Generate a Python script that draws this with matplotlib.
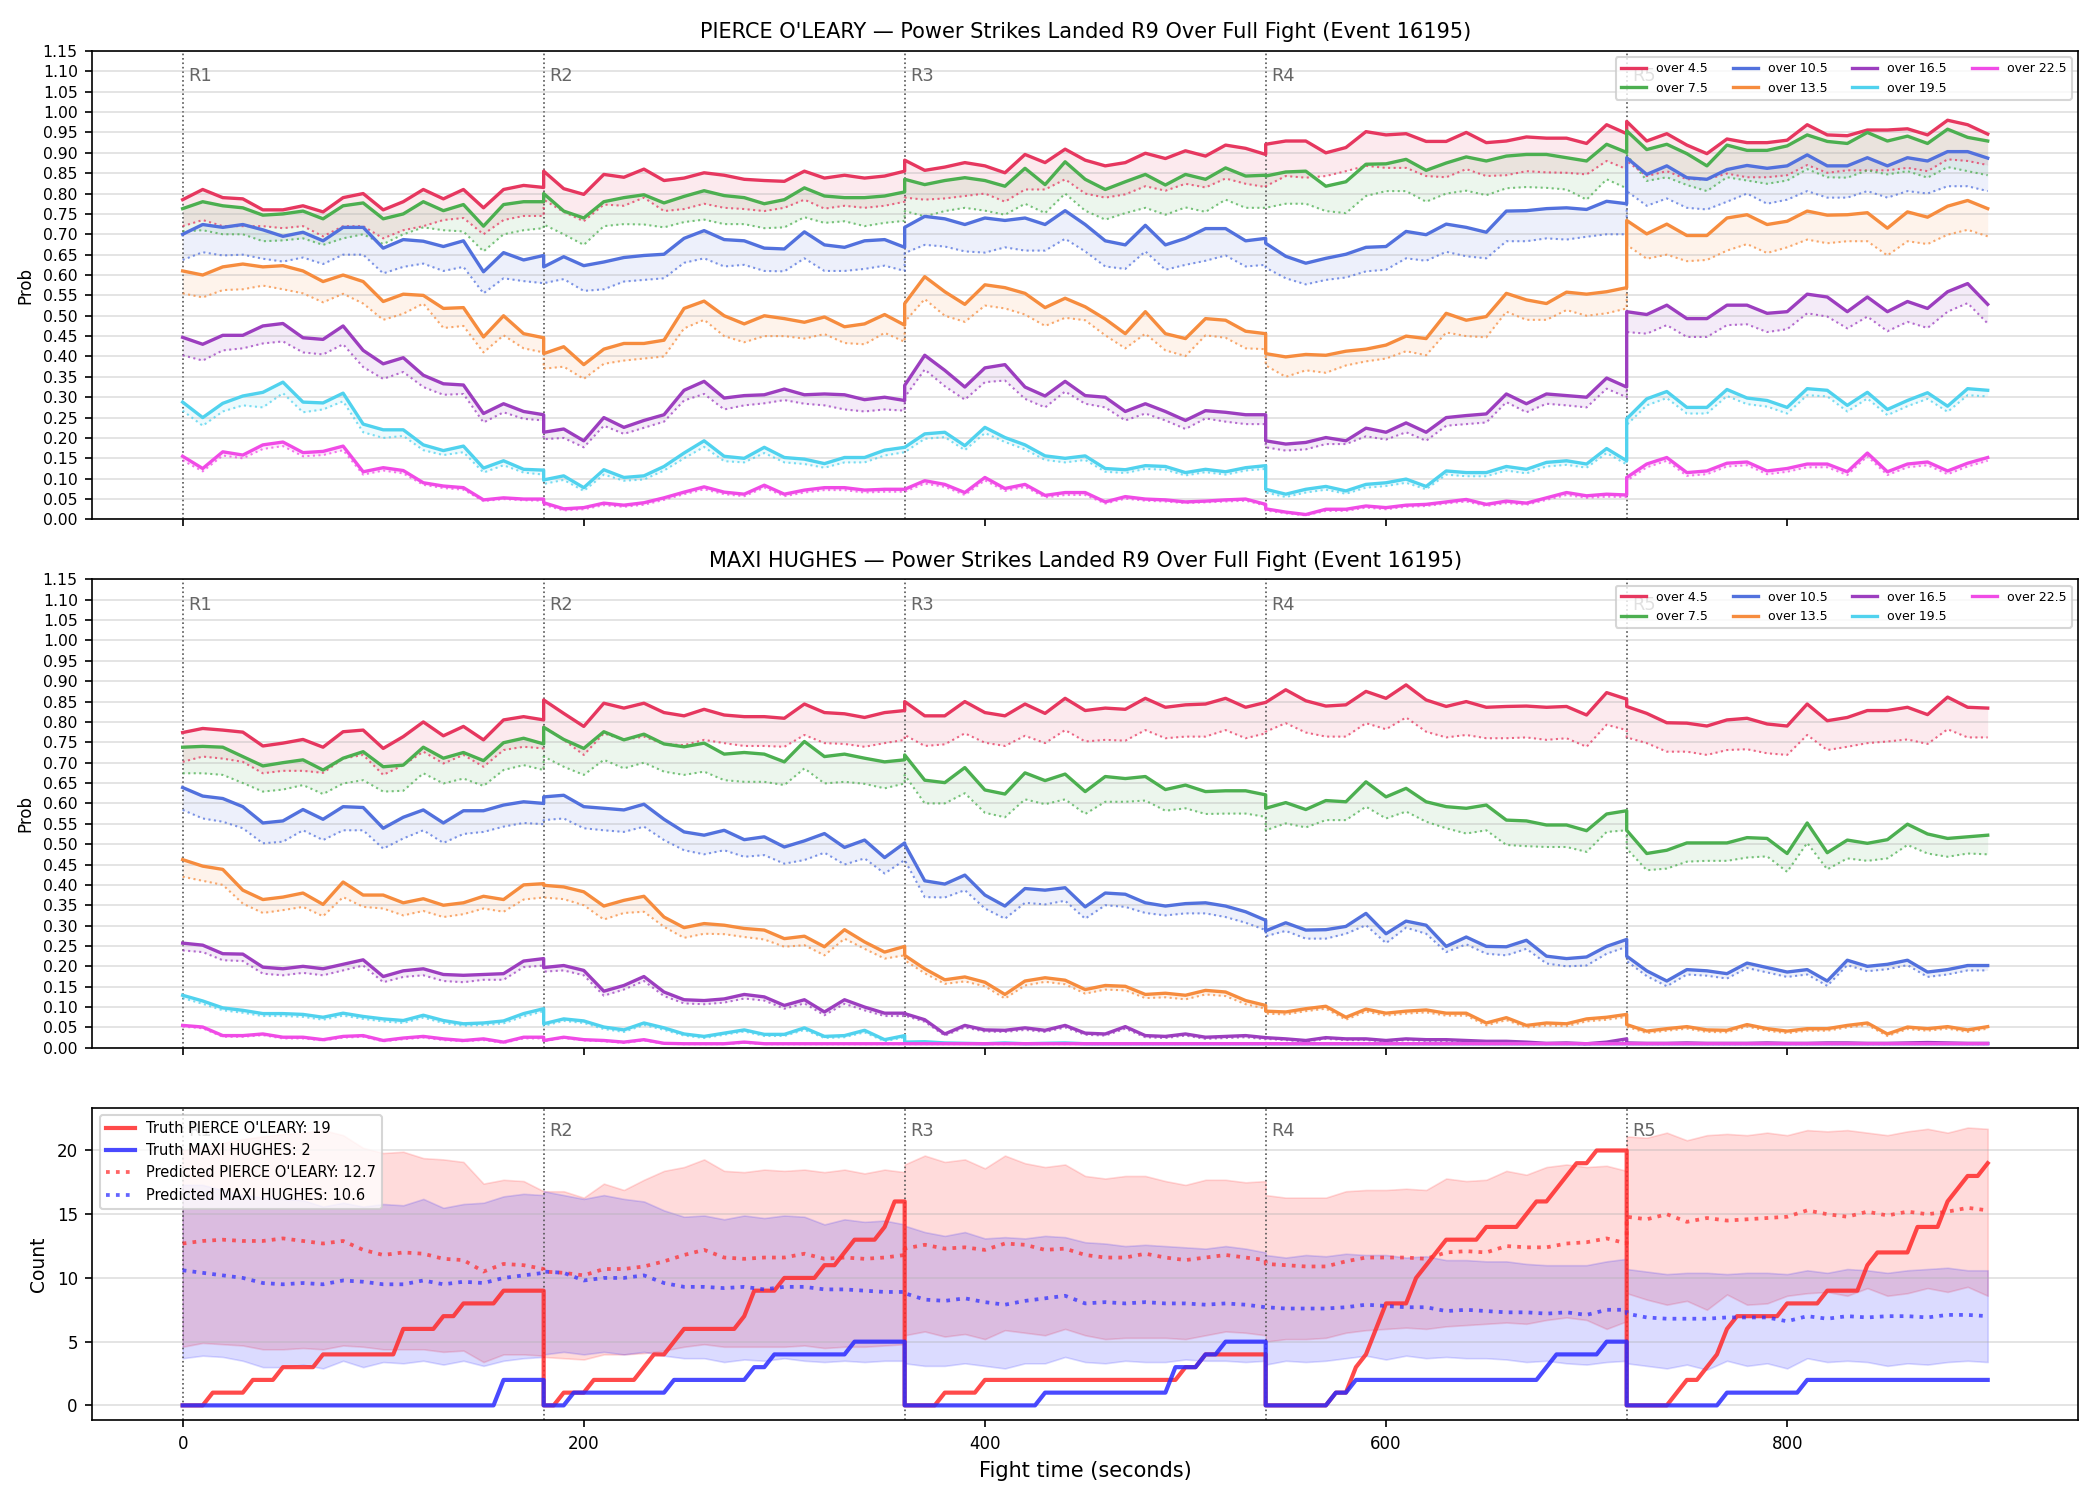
import numpy as np
import matplotlib
matplotlib.use("Agg")
import matplotlib.pyplot as plt

# ---------------------------------------------------------------- settings
ROUND_LEN = 180
N_ROUNDS = 5
LINES = ["over 4.5", "over 7.5", "over 10.5", "over 13.5", "over 16.5", "over 19.5", "over 22.5"]
COLORS = ["#e6375f", "#4caf50", "#5271dd", "#f68c3e", "#9c3ebf", "#50d2ee", "#f04be6"]
FIGHTER_A = "PIERCE O'LEARY"
FIGHTER_B = "MAXI HUGHES"
EVENT = 16195

# ------------------------------------------------ PIERCE O'LEARY probabilities
# 19 samples per round (every 10 s, 0..180 s), rounds 1-5 concatenated
po_live_45 = [.785, .81, .79, .787, .76, .76, .77, .755, .79, .80, .76, .78, .81, .787, .81, .765, .81, .82, .815,
              .855, .812, .798, .847, .84, .86, .832, .838, .851, .845, .835, .832, .83, .855, .838, .845, .838, .843, .855,
              .882, .857, .865, .876, .868, .851, .896, .876, .909, .882, .868, .876, .899, .886, .905, .892, .919, .911, .896,
              .921, .929, .929, .90, .913, .952, .944, .947, .928, .928, .95, .925, .929, .939, .936, .936, .923, .969, .947,
              .977, .929, .947, .919, .898, .934, .925, .925, .931, .969, .944, .942, .956, .956, .959, .944, .98, .969, .946]
po_base_45 = [.72, .735, .72, .72, .72, .715, .72, .695, .72, .72, .69, .71, .72, .735, .74, .70, .735, .745, .745,
              .785, .755, .732, .773, .77, .79, .757, .762, .775, .765, .762, .757, .765, .785, .763, .77, .765, .77, .78,
              .79, .785, .788, .794, .80, .78, .81, .81, .835, .80, .79, .798, .818, .807, .824, .815, .837, .824, .816,
              .818, .843, .839, .843, .855, .868, .863, .863, .843, .84, .86, .843, .845, .855, .852, .851, .847, .88, .86,
              .88, .843, .855, .835, .835, .849, .84, .84, .845, .87, .851, .857, .857, .857, .863, .855, .884, .88, .87]
po_live_75 = [.763, .78, .77, .765, .747, .75, .757, .738, .77, .777, .738, .75, .78, .758, .773, .72, .773, .78, .78,
              .80, .757, .74, .78, .79, .797, .777, .793, .807, .795, .79, .775, .785, .814, .794, .79, .79, .794, .804,
              .835, .822, .832, .839, .832, .818, .862, .822, .878, .835, .81, .829, .847, .821, .847, .835, .863, .843, .845,
              .843, .853, .855, .818, .829, .872, .873, .884, .857, .875, .89, .88, .892, .896, .896, .888, .88, .921, .901,
              .954, .908, .921, .898, .868, .919, .906, .906, .917, .944, .928, .923, .95, .929, .941, .923, .958, .938, .929]
po_base_75 = [.707, .71, .70, .70, .683, .685, .69, .674, .69, .70, .676, .70, .717, .71, .707, .658, .70, .71, .715,
              .724, .70, .674, .72, .725, .724, .717, .73, .736, .725, .725, .715, .717, .742, .728, .732, .72, .728, .733,
              .757, .744, .757, .765, .758, .748, .775, .752, .80, .758, .736, .752, .765, .748, .766, .755, .785, .765, .765,
              .765, .775, .775, .757, .752, .794, .806, .806, .78, .80, .807, .796, .813, .816, .814, .81, .785, .835, .813,
              .896, .831, .84, .821, .806, .84, .832, .824, .832, .86, .84, .839, .857, .847, .855, .839, .865, .855, .845]
po_live_105 = [.70, .724, .717, .724, .711, .695, .705, .684, .717, .717, .666, .687, .683, .67, .684, .608, .655, .637, .648,
               .62, .645, .623, .632, .643, .648, .651, .69, .709, .687, .684, .666, .664, .706, .674, .668, .684, .687, .668,
               .717, .744, .738, .724, .74, .734, .74, .724, .758, .724, .684, .674, .722, .674, .69, .714, .714, .684, .69,
               .678, .646, .629, .641, .651, .668, .67, .707, .699, .725, .717, .705, .757, .758, .763, .765, .761, .781, .775,
               .888, .847, .868, .839, .835, .859, .869, .862, .868, .895, .868, .868, .888, .868, .888, .88, .903, .903, .887]
po_base_105 = [.637, .656, .648, .65, .64, .633, .643, .627, .65, .65, .604, .62, .628, .61, .62, .555, .592, .585, .58,
               .58, .59, .561, .565, .584, .588, .592, .63, .641, .621, .625, .61, .609, .641, .61, .61, .615, .623, .61,
               .654, .674, .67, .658, .655, .668, .66, .66, .689, .658, .621, .615, .658, .613, .625, .635, .648, .621, .625,
               .618, .592, .577, .588, .594, .609, .613, .641, .635, .657, .646, .641, .683, .683, .69, .687, .694, .70, .70,
               .806, .77, .788, .765, .761, .78, .80, .775, .785, .806, .79, .79, .806, .79, .806, .80, .818, .818, .806]
po_live_135 = [.61, .60, .62, .627, .62, .623, .61, .584, .60, .584, .535, .553, .55, .518, .52, .448, .50, .456, .446,
               .407, .424, .38, .418, .432, .432, .44, .518, .536, .50, .48, .50, .493, .484, .497, .473, .48, .503, .477,
               .53, .596, .559, .528, .576, .569, .555, .52, .543, .522, .492, .456, .51, .456, .444, .493, .489, .462, .456,
               .407, .399, .405, .403, .413, .418, .428, .45, .444, .506, .489, .498, .555, .539, .53, .558, .553, .559, .569,
               .734, .701, .725, .697, .697, .74, .748, .724, .732, .757, .747, .748, .753, .715, .755, .742, .769, .783, .763]
po_base_135 = [.555, .545, .563, .565, .574, .565, .555, .533, .554, .53, .49, .505, .53, .47, .475, .41, .452, .42, .41,
               .37, .375, .345, .382, .39, .395, .40, .469, .49, .45, .435, .45, .45, .444, .455, .433, .43, .458, .436,
               .485, .541, .50, .485, .525, .518, .503, .475, .495, .489, .452, .42, .456, .415, .401, .452, .446, .42, .418,
               .378, .35, .366, .36, .378, .388, .395, .413, .403, .459, .45, .447, .51, .49, .49, .514, .50, .506, .518,
               .674, .64, .65, .634, .637, .66, .676, .654, .668, .687, .678, .683, .683, .648, .683, .676, .699, .711, .695]
po_live_165 = [.447, .43, .452, .452, .475, .481, .446, .442, .475, .415, .382, .397, .354, .333, .33, .26, .284, .265, .257,
               .214, .222, .193, .25, .226, .243, .257, .317, .339, .298, .304, .306, .32, .306, .308, .306, .294, .30, .292,
               .329, .403, .366, .325, .372, .38, .325, .303, .339, .304, .30, .265, .284, .265, .243, .267, .263, .257, .257,
               .193, .185, .189, .201, .193, .224, .214, .237, .214, .25, .255, .259, .308, .284, .308, .304, .30, .347, .325,
               .51, .503, .526, .493, .493, .526, .526, .506, .51, .553, .546, .51, .546, .51, .535, .518, .559, .579, .528]
po_base_165 = [.403, .39, .415, .42, .432, .437, .41, .405, .43, .374, .345, .362, .325, .306, .308, .238, .263, .247, .243,
               .197, .20, .177, .23, .21, .225, .24, .292, .308, .27, .28, .285, .293, .284, .28, .27, .265, .27, .267,
               .30, .368, .327, .294, .337, .341, .296, .275, .314, .284, .275, .243, .26, .243, .222, .248, .24, .234, .234,
               .177, .169, .172, .185, .185, .204, .196, .214, .193, .23, .234, .238, .288, .263, .284, .28, .275, .321, .30,
               .46, .456, .477, .448, .448, .477, .479, .46, .467, .506, .498, .469, .498, .462, .485, .47, .51, .531, .481]
po_live_195 = [.288, .25, .285, .303, .312, .337, .288, .286, .31, .234, .22, .22, .183, .169, .18, .126, .144, .123, .121,
               .097, .107, .078, .122, .103, .107, .13, .163, .193, .155, .15, .177, .152, .148, .137, .152, .152, .17, .177,
               .177, .21, .214, .181, .226, .201, .183, .156, .15, .156, .125, .122, .132, .13, .115, .123, .117, .127, .132,
               .074, .062, .074, .081, .07, .086, .09, .099, .081, .119, .115, .115, .13, .123, .14, .144, .136, .174, .144,
               .247, .296, .314, .275, .275, .319, .298, .292, .275, .321, .317, .28, .312, .27, .292, .311, .278, .321, .317]
po_base_195 = [.267, .23, .265, .28, .275, .31, .263, .27, .29, .214, .20, .205, .17, .158, .165, .115, .133, .115, .11,
               .087, .097, .07, .11, .095, .098, .12, .15, .178, .143, .14, .163, .14, .136, .127, .14, .14, .157, .165,
               .165, .198, .202, .17, .212, .19, .172, .146, .14, .146, .117, .114, .124, .122, .108, .116, .11, .12, .124,
               .066, .055, .066, .073, .063, .078, .082, .09, .074, .11, .106, .106, .12, .113, .13, .134, .127, .163, .135,
               .232, .28, .298, .26, .26, .303, .283, .277, .26, .305, .302, .265, .297, .256, .278, .296, .264, .305, .302]
po_live_225 = [.155, .125, .166, .158, .183, .19, .164, .167, .18, .117, .127, .12, .09, .082, .078, .048, .053, .05, .05,
               .041, .026, .029, .04, .035, .041, .053, .067, .08, .067, .062, .084, .062, .072, .078, .078, .072, .074, .074,
               .074, .095, .086, .066, .103, .076, .086, .059, .066, .066, .043, .056, .05, .048, .043, .045, .048, .05, .037,
               .026, .018, .012, .025, .025, .033, .029, .035, .037, .043, .049, .037, .045, .04, .053, .066, .058, .062, .06,
               .103, .136, .152, .115, .119, .138, .141, .119, .125, .136, .136, .117, .163, .117, .136, .141, .119, .138, .152]
po_base_225 = [.145, .118, .157, .15, .173, .18, .155, .158, .17, .11, .12, .113, .085, .077, .073, .045, .05, .047, .046,
               .036, .022, .025, .035, .031, .036, .048, .062, .074, .062, .057, .078, .057, .066, .072, .072, .066, .068, .068,
               .068, .088, .08, .06, .096, .07, .08, .054, .06, .06, .039, .051, .046, .044, .04, .042, .044, .046, .034,
               .022, .015, .01, .021, .021, .029, .025, .031, .033, .039, .044, .033, .04, .036, .048, .06, .053, .056, .055,
               .095, .128, .144, .107, .111, .13, .133, .111, .117, .128, .128, .109, .155, .109, .128, .133, .111, .13, .144]

# --------------------------------------------------- MAXI HUGHES probabilities
mh_live_45 = [.774, .784, .78, .775, .741, .748, .757, .738, .776, .78, .735, .764, .80, .766, .789, .756, .805, .813, .805,
              .854, .821, .789, .846, .834, .846, .823, .815, .831, .817, .813, .813, .809, .844, .823, .82, .811, .823, .828,
              .85, .815, .815, .85, .823, .815, .844, .821, .858, .828, .834, .831, .858, .836, .842, .844, .858, .836, .848,
              .848, .879, .852, .839, .842, .875, .858, .891, .854, .838, .85, .836, .838, .839, .836, .838, .817, .872, .856,
              .838, .821, .798, .797, .79, .805, .809, .795, .79, .844, .803, .811, .828, .828, .836, .818, .861, .836, .834]
mh_base_45 = [.702, .715, .71, .702, .674, .68, .68, .675, .71, .719, .67, .694, .727, .698, .719, .69, .731, .739, .735,
              .789, .756, .719, .772, .756, .764, .746, .743, .756, .748, .741, .741, .739, .768, .748, .746, .739, .748, .756,
              .768, .741, .745, .772, .749, .741, .766, .748, .78, .752, .756, .754, .78, .76, .764, .764, .78, .76, .772,
              .776, .797, .774, .764, .764, .797, .782, .811, .776, .762, .768, .76, .76, .762, .756, .76, .739, .793, .78,
              .762, .748, .727, .727, .719, .731, .733, .723, .719, .768, .731, .739, .748, .752, .757, .746, .782, .762, .762]
mh_live_75 = [.738, .74, .738, .715, .692, .70, .707, .682, .711, .727, .69, .694, .738, .711, .725, .705, .749, .76, .746,
              .787, .757, .735, .776, .756, .77, .746, .739, .748, .721, .725, .721, .702, .752, .715, .721, .711, .702, .707,
              .719, .657, .651, .688, .633, .623, .675, .656, .672, .629, .666, .661, .666, .634, .645, .629, .631, .631, .621,
              .588, .602, .585, .607, .604, .653, .616, .637, .604, .592, .588, .596, .559, .557, .547, .547, .533, .574, .582,
              .534, .477, .485, .503, .503, .503, .516, .514, .477, .552, .479, .51, .502, .511, .549, .525, .514, .518, .522]
mh_base_75 = [.674, .674, .67, .65, .629, .634, .645, .623, .649, .657, .629, .631, .674, .649, .661, .643, .682, .694, .682,
              .715, .69, .67, .707, .686, .70, .678, .67, .678, .657, .653, .653, .645, .686, .649, .653, .648, .637, .649,
              .67, .60, .60, .625, .577, .566, .61, .598, .61, .574, .604, .604, .607, .582, .588, .574, .575, .575, .567,
              .534, .551, .541, .559, .559, .592, .563, .58, .555, .539, .526, .534, .498, .495, .493, .493, .481, .53, .534,
              .489, .436, .44, .457, .459, .459, .467, .47, .432, .503, .438, .465, .459, .465, .498, .477, .469, .477, .475]
mh_live_105 = [.639, .618, .612, .592, .552, .557, .585, .561, .592, .59, .539, .566, .584, .552, .582, .582, .596, .604, .60,
               .616, .62, .592, .588, .584, .598, .561, .53, .522, .534, .511, .518, .493, .508, .526, .492, .51, .467, .503,
               .50, .41, .402, .424, .375, .348, .391, .387, .393, .346, .38, .377, .356, .348, .354, .356, .348, .334, .313,
               .287, .307, .289, .29, .298, .33, .28, .311, .301, .249, .272, .249, .248, .264, .225, .219, .223, .249, .266,
               .225, .189, .164, .192, .189, .182, .208, .197, .186, .192, .164, .215, .20, .205, .215, .186, .192, .202, .202]
mh_base_105 = [.584, .563, .555, .539, .502, .506, .534, .51, .534, .534, .489, .514, .534, .503, .525, .53, .543, .552, .549,
               .559, .563, .539, .534, .53, .543, .51, .485, .475, .485, .469, .473, .452, .461, .479, .45, .465, .428, .461,
               .461, .37, .369, .387, .342, .317, .356, .352, .361, .317, .35, .346, .331, .325, .33, .33, .321, .307, .289,
               .274, .287, .268, .268, .28, .301, .257, .295, .28, .235, .254, .231, .227, .243, .207, .20, .202, .231, .248,
               .213, .176, .151, .18, .177, .17, .196, .185, .174, .18, .152, .203, .188, .193, .203, .174, .18, .19, .19]
mh_live_135 = [.462, .446, .438, .387, .364, .37, .38, .352, .407, .375, .375, .356, .366, .35, .356, .372, .364, .40, .403,
               .399, .395, .383, .348, .362, .372, .321, .295, .305, .301, .293, .289, .268, .274, .248, .29, .26, .235, .249,
               .227, .194, .167, .174, .161, .131, .164, .172, .166, .143, .153, .151, .131, .134, .129, .141, .137, .116, .104,
               .09, .088, .096, .102, .075, .095, .085, .09, .093, .085, .085, .061, .074, .055, .061, .059, .071, .075, .082,
               .057, .041, .047, .052, .044, .043, .057, .047, .041, .047, .047, .055, .061, .034, .051, .047, .052, .044, .052]
mh_base_135 = [.42, .41, .40, .354, .331, .338, .346, .323, .37, .346, .342, .325, .336, .321, .328, .342, .334, .364, .369,
               .369, .365, .35, .315, .331, .334, .297, .27, .28, .279, .272, .266, .248, .252, .227, .268, .243, .219, .227,
               .215, .183, .157, .163, .151, .121, .153, .162, .156, .133, .143, .141, .122, .124, .119, .131, .127, .107, .096,
               .084, .082, .09, .096, .069, .089, .079, .084, .087, .079, .079, .055, .068, .05, .055, .053, .065, .069, .076,
               .052, .036, .042, .047, .039, .038, .052, .042, .036, .042, .042, .05, .056, .029, .046, .042, .047, .039, .047]
mh_live_165 = [.257, .252, .231, .23, .198, .194, .20, .194, .205, .216, .175, .189, .194, .18, .178, .18, .182, .213, .219,
               .197, .202, .19, .139, .153, .175, .137, .118, .116, .12, .131, .125, .104, .118, .088, .118, .10, .085, .085,
               .084, .069, .034, .055, .044, .043, .049, .043, .055, .036, .034, .052, .03, .028, .034, .026, .028, .03, .025,
               .025, .022, .018, .025, .022, .022, .018, .022, .02, .02, .018, .016, .016, .014, .011, .012, .01, .014, .022,
               .012, .011, .011, .012, .011, .011, .011, .012, .011, .011, .012, .012, .011, .011, .012, .013, .012, .011, .011]
mh_base_165 = [.239, .235, .215, .213, .182, .178, .184, .178, .19, .202, .161, .174, .178, .164, .161, .167, .167, .198, .202,
               .187, .19, .178, .128, .143, .164, .127, .109, .107, .111, .121, .116, .096, .109, .08, .108, .092, .078, .078,
               .079, .064, .03, .05, .04, .039, .044, .039, .05, .032, .03, .047, .026, .024, .03, .022, .024, .026, .021,
               .022, .019, .015, .022, .019, .019, .015, .019, .017, .017, .015, .013, .013, .012, .009, .01, .008, .012, .019,
               .01, .009, .009, .01, .009, .009, .009, .01, .009, .009, .01, .01, .009, .009, .01, .011, .01, .009, .009]
mh_live_195 = [.129, .115, .098, .092, .084, .084, .082, .075, .085, .077, .071, .067, .08, .067, .059, .061, .066, .084, .096,
               .059, .071, .066, .051, .044, .061, .049, .034, .028, .036, .044, .033, .033, .049, .028, .03, .043, .02, .03,
               .014, .015, .012, .011, .01, .012, .01, .011, .012, .01, .01, .01, .01, .01, .01, .01, .01, .01, .01,
               .01, .01, .01, .01, .01, .01, .01, .01, .01, .01, .01, .01, .01, .01, .01, .01, .01, .01, .01,
               .01, .01, .01, .01, .01, .01, .01, .01, .01, .01, .01, .01, .01, .01, .01, .01, .01, .01, .01]
mh_base_195 = [.122, .108, .092, .086, .078, .078, .076, .069, .079, .071, .065, .061, .074, .061, .054, .056, .06, .077, .09,
               .054, .066, .061, .046, .039, .056, .044, .03, .024, .032, .04, .029, .029, .044, .024, .026, .038, .016, .026,
               .012, .013, .01, .009, .009, .01, .009, .009, .01, .009, .009, .009, .009, .009, .009, .009, .009, .009, .009,
               .009, .009, .009, .009, .009, .009, .009, .009, .009, .009, .009, .009, .009, .009, .009, .009, .009, .009, .009,
               .009, .009, .009, .009, .009, .009, .009, .009, .009, .009, .009, .009, .009, .009, .009, .009, .009, .009, .009]
mh_live_225 = [.055, .051, .03, .03, .034, .026, .026, .02, .028, .03, .018, .024, .028, .022, .018, .022, .014, .026, .026,
               .018, .026, .02, .018, .014, .02, .011, .01, .01, .01, .014, .01, .01, .01, .01, .01, .01, .01, .01,
               .01, .01, .01, .01, .01, .01, .01, .01, .01, .01, .01, .01, .01, .01, .01, .01, .01, .01, .01,
               .01, .01, .01, .01, .01, .01, .01, .01, .01, .01, .01, .01, .01, .01, .01, .01, .01, .01, .01,
               .01, .01, .01, .01, .01, .01, .01, .01, .01, .01, .01, .01, .01, .01, .01, .01, .01, .01, .01]
mh_base_225 = [.052, .048, .027, .027, .031, .023, .023, .018, .025, .027, .016, .021, .025, .019, .016, .019, .012, .023, .023,
               .016, .024, .018, .016, .012, .018, .01, .009, .009, .009, .012, .009, .009, .009, .009, .009, .009, .009, .009,
               .009, .009, .009, .009, .009, .009, .009, .009, .009, .009, .009, .009, .009, .009, .009, .009, .009, .009, .009,
               .009, .009, .009, .009, .009, .009, .009, .009, .009, .009, .009, .009, .009, .009, .009, .009, .009, .009, .009,
               .009, .009, .009, .009, .009, .009, .009, .009, .009, .009, .009, .009, .009, .009, .009, .009, .009, .009, .009]

# ------------------------------------------------------------ count panel
# truth: times (s) at which a landed power strike was counted (resets each round)
truth_po_events = [15, 35, 50, 70, 110, 110, 130, 140, 160,
                   190, 205, 230, 235, 245, 250, 280, 285, 285, 300, 320, 330, 335, 350, 355, 355,
                   380, 400, 500, 510,
                   575, 585, 585, 590, 595, 595, 600, 600, 615, 615, 620, 625, 630, 650, 670, 675, 685, 690, 695, 705,
                   745, 750, 760, 765, 770, 770, 775, 800, 820, 840, 840, 845, 865, 865, 880, 880, 885, 890, 900]
truth_mh_events = [160, 160,
                   195, 245, 285, 295, 335,
                   430, 495, 495, 510, 520,
                   575, 585, 680, 685, 710,
                   770, 810]

# predicted means and bands, every 10 s per round
pred_po = [12.7, 12.9, 13.0, 12.9, 12.9, 13.1, 12.9, 12.7, 12.9, 12.2, 11.8, 12.0, 11.9, 11.5, 11.4, 10.5, 11.1, 11.0, 10.7,
           10.5, 10.4, 10.2, 10.7, 10.7, 10.9, 11.3, 11.8, 12.2, 11.6, 11.5, 11.6, 11.6, 11.9, 11.5, 11.6, 11.5, 11.6, 11.8,
           12.3, 12.6, 12.3, 12.4, 12.2, 12.7, 12.6, 12.2, 12.3, 11.8, 11.6, 11.6, 11.9, 11.6, 11.4, 11.6, 11.8, 11.6, 11.4,
           11.1, 11.0, 10.9, 10.9, 11.3, 11.6, 11.6, 11.6, 11.5, 12.0, 12.1, 12.0, 12.5, 12.4, 12.4, 12.7, 12.8, 13.1, 12.7,
           14.8, 14.6, 15.0, 14.4, 14.7, 14.5, 14.6, 14.7, 14.8, 15.3, 15.0, 14.8, 15.2, 14.9, 15.2, 15.0, 15.2, 15.5, 15.3]
pred_mh = [10.6, 10.4, 10.2, 10.0, 9.6, 9.5, 9.6, 9.5, 9.8, 9.7, 9.5, 9.5, 9.8, 9.5, 9.7, 9.6, 10.0, 10.2, 10.4,
           10.5, 10.4, 9.8, 10.0, 10.0, 10.2, 9.6, 9.3, 9.3, 9.2, 9.3, 9.1, 9.3, 9.3, 9.1, 9.1, 9.0, 8.9, 8.9,
           8.8, 8.3, 8.2, 8.4, 8.1, 7.9, 8.2, 8.4, 8.6, 8.0, 8.1, 8.0, 8.1, 8.0, 8.0, 7.9, 8.0, 7.9, 7.7,
           7.7, 7.6, 7.6, 7.6, 7.7, 7.9, 7.8, 7.7, 7.7, 7.4, 7.5, 7.4, 7.3, 7.3, 7.2, 7.3, 7.1, 7.5, 7.5,
           7.2, 6.9, 6.8, 6.8, 6.8, 6.9, 6.9, 6.9, 6.6, 7.0, 6.8, 7.0, 6.9, 7.0, 7.0, 6.9, 7.1, 7.1, 7.0]
hi_po = [20.0, 20.3, 20.6, 20.9, 21.1, 21.3, 21.4, 21.6, 21.2, 20.2, 19.8, 19.9, 19.4, 19.3, 19.1, 17.4, 17.7, 17.6, 16.8,
         16.8, 16.8, 16.3, 17.4, 16.9, 17.7, 18.4, 18.7, 19.3, 18.4, 18.3, 18.5, 18.4, 18.5, 18.3, 18.5, 18.2, 18.5, 18.3,
         18.9, 19.6, 19.1, 19.3, 18.6, 19.6, 19.0, 18.7, 18.9, 18.0, 17.8, 18.0, 18.0, 17.6, 17.3, 17.7, 17.7, 17.5, 17.6,
         16.5, 16.3, 16.3, 16.3, 16.8, 16.9, 16.9, 17.0, 16.9, 17.8, 17.6, 17.7, 18.4, 18.1, 18.7, 18.9, 18.7, 18.8, 18.4,
         21.1, 21.0, 21.4, 20.8, 21.2, 21.3, 21.2, 21.4, 21.2, 21.6, 21.5, 21.6, 21.4, 21.2, 21.5, 21.7, 21.4, 21.8, 21.7]
lo_po = [4.6, 4.9, 4.8, 4.7, 4.4, 4.4, 4.5, 4.4, 4.7, 4.6, 4.4, 4.4, 4.4, 4.2, 4.3, 3.4, 4.0, 4.0, 3.9,
         3.8, 3.7, 3.6, 4.0, 4.0, 4.1, 4.3, 4.6, 4.8, 4.6, 4.6, 4.6, 4.6, 4.7, 4.5, 4.6, 4.6, 4.7, 4.8,
         5.5, 5.8, 5.4, 5.6, 5.2, 5.9, 5.7, 5.5, 6.0, 5.5, 5.2, 5.3, 5.3, 5.3, 5.2, 5.5, 5.8, 5.7, 5.5,
         5.0, 5.2, 5.2, 5.3, 5.7, 5.9, 6.0, 6.1, 6.0, 6.2, 6.3, 6.4, 6.5, 6.4, 6.7, 6.9, 6.7, 6.0, 6.6,
         8.8, 8.3, 7.9, 8.2, 7.5, 8.7, 7.9, 8.0, 8.6, 8.8, 8.9, 8.6, 9.2, 8.6, 8.8, 9.2, 8.9, 9.3, 8.6]
hi_mh = [17.3, 17.3, 16.9, 16.5, 16.3, 16.2, 16.1, 15.6, 15.9, 15.6, 15.8, 15.7, 16.2, 15.5, 15.8, 15.9, 16.4, 16.6, 16.5,
         16.8, 16.5, 16.2, 16.5, 16.2, 16.0, 15.3, 14.8, 14.9, 14.6, 14.9, 14.7, 14.9, 14.8, 14.2, 14.6, 14.4, 14.5, 14.2,
         14.1, 13.6, 13.3, 13.6, 13.1, 13.2, 13.1, 13.3, 13.2, 12.8, 12.7, 12.5, 12.6, 12.5, 12.4, 12.3, 12.5, 12.3, 12.0,
         11.8, 11.6, 11.8, 11.7, 11.9, 11.8, 11.8, 11.6, 11.7, 11.4, 11.4, 11.3, 11.3, 11.1, 11.0, 11.0, 11.0, 11.3, 11.5,
         10.7, 10.5, 10.3, 10.4, 10.4, 10.3, 10.4, 10.4, 10.3, 10.6, 10.4, 10.7, 10.6, 10.4, 10.6, 10.7, 10.8, 10.6, 10.6]
lo_mh = [3.7, 3.9, 3.8, 3.5, 3.0, 3.0, 3.2, 2.9, 3.5, 3.0, 3.4, 3.3, 3.5, 3.2, 3.5, 3.1, 3.5, 3.7, 3.8,
         4.0, 4.2, 4.0, 4.2, 4.0, 4.2, 3.9, 3.7, 3.7, 3.4, 3.6, 3.5, 3.7, 3.5, 3.4, 3.5, 3.4, 3.5, 3.5,
         3.3, 3.1, 3.1, 3.3, 3.1, 2.9, 3.3, 3.3, 3.8, 3.4, 3.3, 3.5, 3.4, 3.4, 3.6, 3.5, 3.5, 3.4, 3.5,
         3.2, 3.5, 3.4, 3.5, 3.7, 3.9, 3.6, 3.9, 3.7, 3.8, 3.7, 3.7, 3.6, 3.4, 3.5, 3.3, 3.2, 3.4, 3.5,
         3.3, 3.1, 2.9, 3.2, 2.8, 3.5, 3.1, 3.3, 2.9, 3.7, 3.4, 3.5, 3.4, 3.1, 3.3, 3.2, 3.4, 3.5, 3.4]

# ------------------------------------------------------------ helpers
round_starts = [r * ROUND_LEN for r in range(N_ROUNDS)]
T10 = np.concatenate([s + np.arange(0, ROUND_LEN + 1, 10) for s in round_starts])
T5 = np.concatenate([s + np.arange(0, ROUND_LEN + 1, 5) for s in round_starts])


def round_counts(events):
    ev = np.asarray(events)
    out = []
    for s in round_starts:
        inr = ev[(ev > s) & (ev <= s + ROUND_LEN)]
        for t in s + np.arange(0, ROUND_LEN + 1, 5):
            out.append((inr <= t).sum())
    return np.array(out)


def mark_rounds(ax, ytext):
    for i, s in enumerate(round_starts):
        ax.axvline(s, color="#555555", ls=":", lw=0.8, zorder=1)
        ax.text(s + 3, ytext, f"R{i + 1}", transform=ax.get_xaxis_transform(),
                va="top", ha="left", fontsize=8.5, color="#666666")


def prob_panel(ax, live, base, fighter):
    for name, col, y1, y0 in zip(LINES, COLORS, live, base):
        ax.fill_between(T10, y0, y1, color=col, alpha=0.1, lw=0)
        ax.plot(T10, y0, color=col, lw=1.0, ls=":", alpha=0.75)
        ax.plot(T10, y1, color=col, lw=1.6, label=name)
    mark_rounds(ax, 0.965)
    ax.set_ylim(0, 1.15)
    ax.set_yticks(np.arange(0, 1.151, 0.05))
    ax.yaxis.set_major_formatter(plt.FormatStrFormatter("%.2f"))
    ax.set_ylabel("Prob", fontsize=8)
    ax.set_title(f"{fighter} \u2014 Power Strikes Landed R9 Over Full Fight (Event {EVENT})", fontsize=10)
    ax.grid(True, axis="y", alpha=0.4)
    ax.legend(loc="upper right", ncol=4, fontsize=6)
    ax.tick_params(labelsize=7.5)


# ------------------------------------------------------------ figure
fig, axes = plt.subplots(3, 1, figsize=(14, 10), dpi=150, sharex=True,
                         gridspec_kw={"height_ratios": [3, 3, 2]})
fig.subplots_adjust(left=0.044, right=0.9895, top=0.966, bottom=0.0533, hspace=0.144)

prob_panel(axes[0],
           [po_live_45, po_live_75, po_live_105, po_live_135, po_live_165, po_live_195, po_live_225],
           [po_base_45, po_base_75, po_base_105, po_base_135, po_base_165, po_base_195, po_base_225],
           FIGHTER_A)
prob_panel(axes[1],
           [mh_live_45, mh_live_75, mh_live_105, mh_live_135, mh_live_165, mh_live_195, mh_live_225],
           [mh_base_45, mh_base_75, mh_base_105, mh_base_135, mh_base_165, mh_base_195, mh_base_225],
           FIGHTER_B)

ax = axes[2]
ax.fill_between(T10, lo_po, hi_po, color="red", alpha=0.14, lw=0.8)
ax.fill_between(T10, lo_mh, hi_mh, color="blue", alpha=0.14, lw=0.8)
cnt_po = round_counts(truth_po_events)
cnt_mh = round_counts(truth_mh_events)
ax.plot(T5, cnt_po, color="#ff2a2a", lw=2, alpha=0.85, label=f"Truth {FIGHTER_A}: {cnt_po[-1]}")
ax.plot(T5, cnt_mh, color="#2a2aff", lw=2, alpha=0.85, label=f"Truth {FIGHTER_B}: {cnt_mh[-1]}")
ax.plot(T10, pred_po, color="#ff3030", lw=1.8, ls=":", alpha=0.75, label=f"Predicted {FIGHTER_A}: {pred_po[0]:.1f}")
ax.plot(T10, pred_mh, color="#3030ff", lw=1.8, ls=":", alpha=0.75, label=f"Predicted {FIGHTER_B}: {pred_mh[0]:.1f}")
mark_rounds(ax, 0.955)
ax.set_ylim(-1.15, 23.35)
ax.set_yticks([0, 5, 10, 15, 20])
ax.set_ylabel("Count", fontsize=9)
ax.grid(True, axis="y", alpha=0.4)
ax.legend(loc="upper left", fontsize=7)
ax.tick_params(labelsize=8)
ax.set_xlim(-45, 945)
ax.set_xlabel("Fight time (seconds)", fontsize=10)

fig.savefig("out.png", dpi=150)
